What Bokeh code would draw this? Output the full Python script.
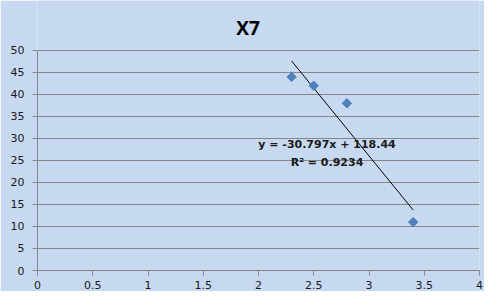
from bokeh.plotting import figure
from bokeh.models import Range1d, FixedTicker, Label
from bokeh.embed import file_html
from bokeh.resources import INLINE

# data
x_vals = [2.3, 2.5, 2.8, 3.4]
y_vals = [44, 42, 38, 11]
x_ticks = [0, 0.5, 1, 1.5, 2, 2.5, 3, 3.5, 4]
x_tick_labels = ["0", "0.5", "1", "1.5", "2", "2.5", "3", "3.5", "4"]
y_ticks = [0, 5, 10, 15, 20, 25, 30, 35, 40, 45, 50]
title_text = "X7"
eq_text = "y = -30.797x + 118.44"
r2_text = "R\u00b2 = 0.9234"

# linear fit computed from the data
n = len(x_vals)
mx = sum(x_vals) / n
my = sum(y_vals) / n
sxy = sum((a - mx) * (b - my) for a, b in zip(x_vals, y_vals))
sxx = sum((a - mx) ** 2 for a in x_vals)
slope = sxy / sxx
intercept = my - slope * mx
fit_x = [min(x_vals), max(x_vals)]
fit_y = [intercept + slope * v for v in fit_x]

BG = "#C6D9F1"
GRID = "#868686"

# the frame reaches to the top of the figure so that the title can sit inside it;
# the axis itself is bounded to 0..50
p = figure(width=484, height=291, output_backend="svg", toolbar_location=None,
           x_range=Range1d(0, 4), y_range=Range1d(0, 61.36),
           min_border_left=37, min_border_right=5, min_border_top=0, min_border_bottom=21)
p.background_fill_color = BG
p.border_fill_color = BG
p.outline_line_color = None

p.xaxis.ticker = FixedTicker(ticks=x_ticks)
p.xaxis.major_label_overrides = {t: l for t, l in zip(x_ticks, x_tick_labels)}
p.yaxis.ticker = FixedTicker(ticks=y_ticks)
p.yaxis.bounds = (min(y_ticks), max(y_ticks))
for ax in (p.xaxis[0], p.yaxis[0]):
    ax.axis_line_color = GRID
    ax.major_tick_line_color = GRID
    ax.major_tick_out = 5
    ax.major_tick_in = 0
    ax.minor_tick_line_color = None
    ax.major_label_text_font = "DejaVu Sans"
    ax.major_label_text_font_size = "11px"
    ax.major_label_text_color = "#1a1a1a"
p.yaxis.major_label_standoff = 8
p.xaxis.major_label_standoff = 5

p.xgrid.grid_line_color = None
p.ygrid.grid_line_color = GRID
p.ygrid.grid_line_width = 1

p.line(fit_x, fit_y, line_color="black", line_width=1)
p.scatter(x_vals, y_vals, marker="square", angle=0.785398, size=6.6,
          fill_color="#4F81BD", line_color="#4A7EBB")

p.add_layout(Label(x=1.906, y=55.0, text=title_text, text_align="center",
                   text_baseline="alphabetic", text_font="Open Sans",
                   text_font_style="bold", text_font_size="19px", text_color="black"))
p.add_layout(Label(x=2.62, y=28.6, text=eq_text, text_align="center",
                   text_baseline="alphabetic", text_font="DejaVu Sans",
                   text_font_style="bold", text_font_size="11px", text_color="#1a1a1a"))
p.add_layout(Label(x=2.62, y=24.5, text=r2_text, text_align="center",
                   text_baseline="alphabetic", text_font="DejaVu Sans",
                   text_font_style="bold", text_font_size="11px", text_color="#1a1a1a"))

open("out.html", "w").write(file_html(p, INLINE))
